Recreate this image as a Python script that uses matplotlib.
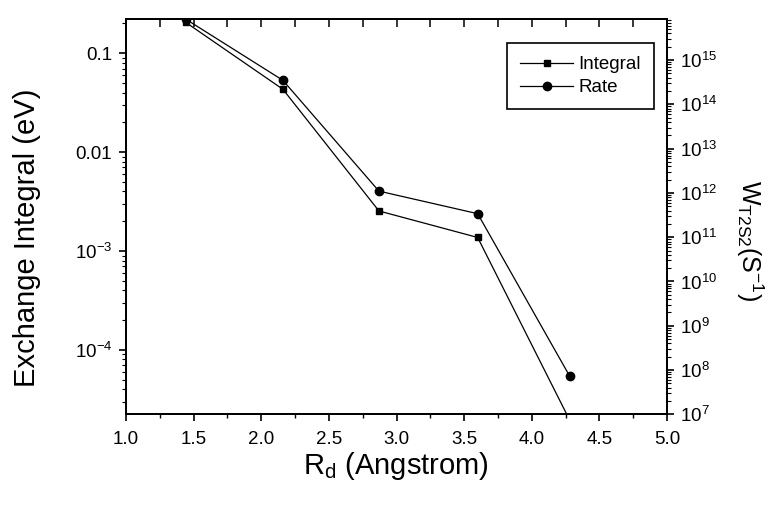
import matplotlib
matplotlib.use("Agg")
import matplotlib.pyplot as plt
from matplotlib.ticker import FixedLocator, LogLocator, MultipleLocator, NullFormatter

plt.rcParams['font.family'] = ['Liberation Sans', 'DejaVu Sans']
plt.rcParams['mathtext.default'] = 'regular'

# distance R_d (Angstrom)
r_d = [1.44, 2.16, 2.87, 3.60, 4.28]
# exchange integral (eV), left axis
integral = [0.206, 0.0432, 2.54e-3, 1.37e-3, 1.95e-5]
# transfer rate W_T2S2 (s^-1), right axis
rate = [8.5e15, 3.5e14, 1.1e12, 3.4e11, 7.3e7]

left_ticks = [1e-4, 1e-3, 0.01, 0.1]
left_labels = ['$10^{-4}$', '$10^{-3}$', '0.01', '0.1']

fig = plt.figure(figsize=(7.74, 5.05), dpi=100)
ax = fig.add_axes([0.1628, 0.1796, 0.699, 0.7828])
ax2 = ax.twinx()

l1, = ax.plot(r_d, integral, '-s', color='black', lw=0.9, ms=5, label='Integral')
l2, = ax2.plot(r_d, rate, '-o', color='black', lw=0.9, ms=6, label='Rate')

ax.set_yscale('log')
ax.set_ylim(2.23e-5, 0.222)
ax.yaxis.set_major_locator(FixedLocator(left_ticks))
ax.set_yticklabels(left_labels)
ax.yaxis.set_minor_locator(LogLocator(base=10, subs=range(2, 10)))
ax.yaxis.set_minor_formatter(NullFormatter())

ax2.set_yscale('log')
ax2.set_ylim(1e7, 8.5e15)
ax2.yaxis.set_major_locator(LogLocator(base=10, numticks=20))
ax2.yaxis.set_minor_locator(LogLocator(base=10, subs=range(2, 10), numticks=20))
ax2.yaxis.set_minor_formatter(NullFormatter())

ax.set_xlim(1.0, 5.0)
ax.xaxis.set_major_locator(MultipleLocator(0.5))
ax.xaxis.set_minor_locator(MultipleLocator(0.25))
ax.set_xticklabels([f'{v:.1f}' for v in ax.get_xticks()])

# ticks on top point inward, no labels
top = ax.secondary_xaxis('top')
top.xaxis.set_major_locator(MultipleLocator(0.25))
top.tick_params(axis='x', direction='in', length=6, width=1.1, labeltop=False)

ax.tick_params(axis='x', which='major', direction='out', length=5, width=1.2, labelsize=13.5, pad=7)
ax.tick_params(axis='x', which='minor', direction='out', length=3, width=1.0)
ax.tick_params(axis='y', which='major', direction='out', length=5, width=1.2, labelsize=13.5, pad=5)
ax.tick_params(axis='y', which='minor', direction='out', length=3, width=0.8)
ax2.tick_params(axis='y', which='major', direction='out', length=5, width=1.2, labelsize=13.5, pad=4)
ax2.tick_params(axis='y', which='minor', direction='out', length=3, width=0.8)

for sp in list(ax.spines.values()) + list(ax2.spines.values()) + list(top.spines.values()):
    sp.set_linewidth(1.3)

ax.set_xlabel('R$_{d}$ (Angstrom)', fontsize=21, va='top')
ax.xaxis.set_label_coords(0.499, -0.09)
ax.set_ylabel('Exchange Integral (eV)', fontsize=21, va='center')
ax.yaxis.set_label_coords(-0.183, 0.446)
ax2.set_ylabel('W$_{T2S2}$(S$^{-1}$)', fontsize=18, rotation=270, va='center')
ax2.yaxis.set_label_coords(1.153, 0.44)

ax2.legend(handles=[l1, l2], loc='upper right', bbox_to_anchor=(0.976, 0.939),
           fontsize=13.5, frameon=True, fancybox=False, edgecolor='black',
           framealpha=1, handlelength=2.8, borderpad=0.7, labelspacing=0.3,
           handletextpad=0.3, borderaxespad=0)
ax2.get_legend().get_frame().set_linewidth(1.2)

fig.savefig('out.png', dpi=100)
